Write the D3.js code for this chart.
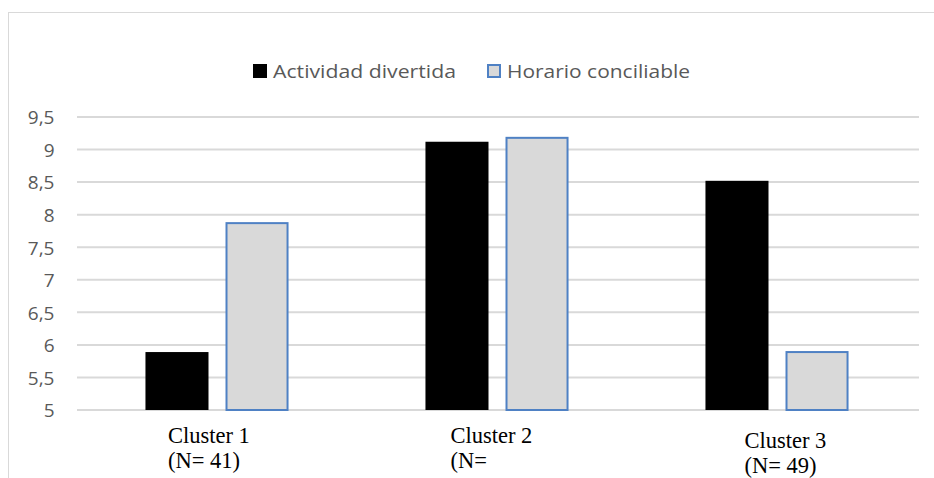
<!DOCTYPE html>
<html>
<head>
<meta charset="utf-8">
<script src="https://cdn.jsdelivr.net/npm/d3@7"></script>
<style>
  html, body { margin: 0; padding: 0; background: #ffffff; }
  svg { display: block; }
</style>
</head>
<body>
<svg id="chart" width="934" height="478"></svg>
<script>
// Cluster categories and their two-line labels
const clusters = ["Cluster 1", "Cluster 2", "Cluster 3"];
const clusterSizes = ["(N= 41)", "(N=", "(N= 49)"];

// Series names and mean scores per cluster
const seriesNames = ["Actividad divertida", "Horario conciliable"];
const actividadDivertida = [5.89, 9.12, 8.52];
const horarioConciliable = [7.87, 9.18, 5.89];

// Y-axis ticks
const yTicks = [5, 5.5, 6, 6.5, 7, 7.5, 8, 8.5, 9, 9.5];

const seriesValues = [actividadDivertida, horarioConciliable];
const seriesStyle = [
  { fill: "#000000", stroke: "none", sw: 0 },
  { fill: "#D9D9D9", stroke: "#4F81C4", sw: 2 }
];

const svg = d3.select("#chart");

// Outer chart frame
svg.append("rect")
  .attr("x", 8.5).attr("y", 12.5)
  .attr("width", 940).attr("height", 480)
  .attr("fill", "none")
  .attr("stroke", "#D9D9D9")
  .attr("stroke-width", 1);

const plot = { left: 77, right: 917, top: 117, bottom: 410 };

const x0 = d3.scaleBand()
  .domain(clusters)
  .range([plot.left, plot.right])
  .paddingInner(0.489)
  .paddingOuter(0.2445);

const x1 = d3.scaleBand()
  .domain(seriesNames)
  .range([0, x0.bandwidth()])
  .paddingInner(0.2125)
  .paddingOuter(0);

const y = d3.scaleLinear()
  .domain([5, 9.5])
  .range([plot.bottom, plot.top]);

const fmt = v => d3.format("")(v).replace(".", ",");

// Horizontal gridlines
svg.append("g")
  .selectAll("line")
  .data(yTicks)
  .join("line")
  .attr("x1", plot.left).attr("x2", plot.right + 2)
  .attr("y1", d => y(d)).attr("y2", d => y(d))
  .attr("stroke", "#D9D9D9")
  .attr("stroke-width", 2);

// Y-axis labels
const yAxis = d3.axisLeft(y).tickValues(yTicks).tickFormat(fmt).tickSize(0).tickPadding(0);
const yg = svg.append("g")
  .attr("transform", `translate(${plot.left - 22.5},0)`)
  .call(yAxis);
yg.select(".domain").remove();
yg.selectAll("text")
  .attr("fill", "#595959")
  .attr("font-family", "'Open Sans', sans-serif")
  .attr("font-size", 19)
  .attr("dy", "0.36em");

// Bars
const groups = svg.append("g")
  .selectAll("g")
  .data(clusters)
  .join("g")
  .attr("transform", d => `translate(${x0(d)},0)`);

groups.selectAll("rect")
  .data((c, i) => seriesNames.map((s, k) => ({ s, k, v: seriesValues[k][i] })))
  .join("rect")
  .attr("x", d => x1(d.s) + seriesStyle[d.k].sw / 2)
  .attr("y", d => y(d.v))
  .attr("width", d => x1.bandwidth() - seriesStyle[d.k].sw)
  .attr("height", d => y(5) - y(d.v))
  .attr("fill", d => seriesStyle[d.k].fill)
  .attr("stroke", d => seriesStyle[d.k].stroke)
  .attr("stroke-width", d => seriesStyle[d.k].sw);

// Category labels (two lines, serif)
const labelDx = [22.5, 25, 39];
const labelDy = [0, 0, 5];
const catLabels = svg.append("g")
  .selectAll("text")
  .data(clusters)
  .join("text")
  .attr("y", (d, i) => 443 + labelDy[i])
  .attr("font-family", "'Liberation Serif', 'Times New Roman', serif")
  .attr("font-size", 22.5)
  .attr("fill", "#000000");
catLabels.append("tspan")
  .attr("x", (d, i) => x0(d) + labelDx[i])
  .text(d => d);
catLabels.append("tspan")
  .attr("x", (d, i) => x0(d) + labelDx[i])
  .attr("dy", 24.5)
  .text((d, i) => clusterSizes[i]);

// Legend
const legendX = [253, 487];
const legendTextLen = [183, 183];
const legend = svg.append("g")
  .selectAll("g")
  .data(seriesNames)
  .join("g")
  .attr("transform", (d, i) => `translate(${legendX[i]},64)`);
legend.append("rect")
  .attr("x", (d, i) => seriesStyle[i].sw / 2)
  .attr("y", (d, i) => seriesStyle[i].sw / 2)
  .attr("width", (d, i) => 14 - seriesStyle[i].sw)
  .attr("height", (d, i) => 14 - seriesStyle[i].sw)
  .attr("fill", (d, i) => seriesStyle[i].fill)
  .attr("stroke", (d, i) => seriesStyle[i].stroke)
  .attr("stroke-width", (d, i) => seriesStyle[i].sw);
legend.append("text")
  .attr("x", 20)
  .attr("y", 14)
  .attr("font-family", "'Open Sans', sans-serif")
  .attr("font-size", 19)
  .attr("fill", "#595959")
  .attr("textLength", (d, i) => legendTextLen[i])
  .attr("lengthAdjust", "spacingAndGlyphs")
  .text(d => d);
</script>
</body>
</html>
